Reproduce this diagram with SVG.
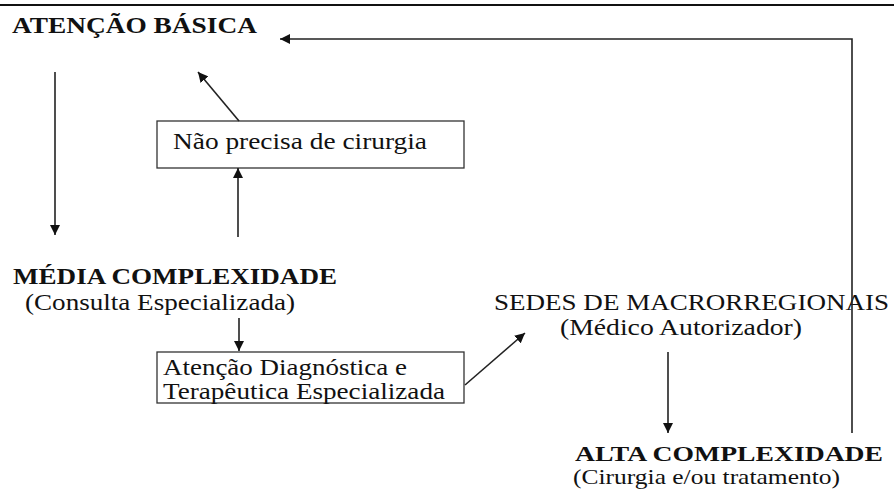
<svg xmlns="http://www.w3.org/2000/svg" width="894" height="491" viewBox="0 0 894 491">
<defs>
<style>
text{font-family:'Liberation Serif','Times New Roman',Times,serif;fill:#111;}
.b{font-weight:bold;font-size:23px;}
.r{font-size:23px;}
.ln{stroke:#222;stroke-width:1.6;fill:none;}
.box{fill:#fff;stroke:#333;stroke-width:1.3;}
</style>
<marker id="ah" viewBox="0 0 10 10" refX="10" refY="5" markerWidth="10" markerHeight="10" markerUnits="userSpaceOnUse" orient="auto">
<path d="M0,0 L10,5 L0,10 z" fill="#111"/>
</marker>
</defs>
<rect width="894" height="491" fill="#fff"/>
<line x1="0" y1="5" x2="894" y2="5" stroke="#111" stroke-width="2"/>

<g id="atencao-basica">
<text class="b" font-family="Liberation Serif, serif" x="12" y="33" textLength="245" lengthAdjust="spacingAndGlyphs">ATENÇÃO BÁSICA</text>
</g>

<g id="nao-precisa">
<rect class="box" x="157" y="121" width="307" height="47"/>
<text class="r" font-family="Liberation Serif, serif" x="173" y="149" textLength="254" lengthAdjust="spacingAndGlyphs">Não precisa de cirurgia</text>
</g>

<g id="media-complexidade">
<text class="b" font-family="Liberation Serif, serif" x="13" y="284" textLength="324" lengthAdjust="spacingAndGlyphs">MÉDIA COMPLEXIDADE</text>
<text class="r" font-family="Liberation Serif, serif" x="25" y="310" textLength="270" lengthAdjust="spacingAndGlyphs">(Consulta Especializada)</text>
</g>

<g id="atencao-diagnostica">
<rect class="box" x="157" y="352" width="307" height="51"/>
<text class="r" font-family="Liberation Serif, serif" x="163" y="375" textLength="244" lengthAdjust="spacingAndGlyphs">Atenção Diagnóstica e</text>
<text class="r" font-family="Liberation Serif, serif" x="163" y="399" textLength="282" lengthAdjust="spacingAndGlyphs">Terapêutica Especializada</text>
</g>

<g id="sedes">
<text class="r" font-family="Liberation Serif, serif" x="494" y="310" textLength="395" lengthAdjust="spacingAndGlyphs">SEDES DE MACRORREGIONAIS</text>
<text class="r" font-family="Liberation Serif, serif" x="560" y="335" textLength="242" lengthAdjust="spacingAndGlyphs">(Médico Autorizador)</text>
</g>

<g id="alta-complexidade">
<text class="b" font-family="Liberation Serif, serif" style="font-size:21px" x="575" y="461" textLength="308" lengthAdjust="spacingAndGlyphs">ALTA COMPLEXIDADE</text>
<text class="r" font-family="Liberation Serif, serif" style="font-size:21px" x="573" y="484" textLength="267" lengthAdjust="spacingAndGlyphs">(Cirurgia e/ou tratamento)</text>
</g>

<g id="connectors">
<line class="ln" x1="55" y1="72" x2="55" y2="235" marker-end="url(#ah)"/>
<line class="ln" x1="239" y1="121" x2="198" y2="72" marker-end="url(#ah)"/>
<line class="ln" x1="238" y1="237" x2="238" y2="168" marker-end="url(#ah)"/>
<line class="ln" x1="239" y1="318" x2="239" y2="351" marker-end="url(#ah)"/>
<line class="ln" x1="465" y1="385" x2="525" y2="333" marker-end="url(#ah)"/>
<line class="ln" x1="668" y1="352" x2="668" y2="433" marker-end="url(#ah)"/>
<polyline class="ln" points="852,433 852,39 280,39" stroke="#444" marker-end="url(#ah)"/>
</g>
</svg>
